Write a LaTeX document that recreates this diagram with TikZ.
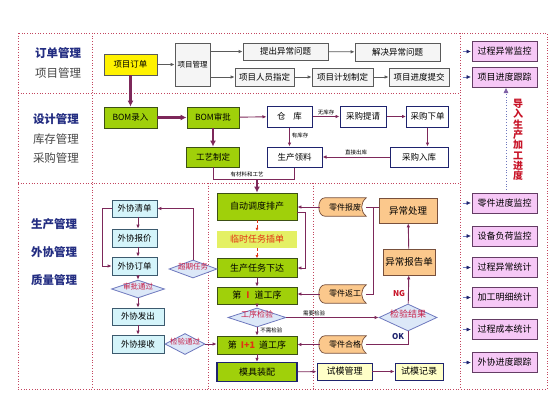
\documentclass[tikz,border=0pt]{standalone}
\usepackage{fontspec}
\setmainfont{Noto Sans CJK SC}
\usetikzlibrary{arrows.meta,shapes.geometric,calc}
\definecolor{pl}{RGB}{125,40,90}
\definecolor{frm}{RGB}{195,70,95}
\definecolor{grn}{RGB}{160,208,10}
\definecolor{grnd}{RGB}{60,80,20}
\definecolor{navy}{RGB}{30,35,110}
\definecolor{lblue}{RGB}{35,45,130}
\definecolor{lgray}{RGB}{70,70,70}
\definecolor{pinkf}{RGB}{246,200,246}
\definecolor{pinkd}{RGB}{100,60,100}
\definecolor{cyanf}{RGB}{212,244,250}
\definecolor{cyand}{RGB}{60,90,110}
\definecolor{orf}{RGB}{251,200,140}
\definecolor{ord}{RGB}{120,80,60}
\definecolor{diaf}{RGB}{220,232,248}
\definecolor{diad}{RGB}{110,120,190}
\definecolor{dtxt}{RGB}{200,30,70}
\definecolor{lsf}{RGB}{228,240,100}
\definecolor{lst}{RGB}{225,50,20}
\definecolor{vred}{RGB}{200,20,40}
\definecolor{yelf}{RGB}{255,255,200}
\definecolor{grayb}{RGB}{245,245,245}
\definecolor{grayd}{RGB}{90,90,90}
\newcommand\docpath[1]{\draw[fill=orf,draw=ord,line width=0.7pt] ($(#1.north west)+(5,0)$) -- (#1.north east) .. controls ($(#1.north east)+(-6,5)$) and ($(#1.south east)+(-6,-5)$) .. (#1.south east) -- ($(#1.south west)+(5,0)$) .. controls ($(#1.south west)+(-3,0)$) and ($(#1.north west)+(-3,0)$) .. cycle;}
\begin{document}
\begin{tikzpicture}[x=1pt,y=-1pt,
  wh/.style 2 args={minimum width=#1pt,minimum height=#2pt},
  box/.style={inner sep=0pt,font=\fontsize{8.5}{9}\selectfont,align=center},
  grayx/.style={box,draw=grayd,fill=grayb,line width=0.7pt},
  yelx/.style={box,draw=grayd,fill=yellow,line width=0.7pt},
  greenx/.style={box,draw=grnd,fill=grn,line width=0.8pt},
  bluex/.style={box,draw=navy,fill=white,line width=1pt},
  pinkx/.style={box,draw=pinkd,fill=pinkf,line width=0.8pt,font=\fontsize{9}{9.5}\selectfont},
  cyanx/.style={box,draw=cyand,fill=cyanf,line width=0.7pt},
  orx/.style={box,draw=ord,fill=orf,line width=0.7pt,font=\fontsize{9.5}{10}\selectfont},
  docn/.style={inner sep=0pt},
  doct/.style={box,font=\fontsize{8}{8.5}\selectfont},
  dia/.style={diamond,inner sep=0pt,draw=diad,fill=diaf,line width=0.8pt,text=dtxt,font=\fontsize{8}{8.5}\selectfont},
  lbl/.style={font=\fontsize{11.5}{12}\selectfont\bfseries,text=lblue},
  lblg/.style={font=\fontsize{11.5}{12}\selectfont,text=lgray},
  small/.style={font=\fontsize{5.5}{6}\selectfont,inner sep=0pt},
  frame/.style={draw=frm,dotted,line width=0.7pt},
  garr/.style={draw=grayd,line width=0.8pt,-{Latex[length=4pt,width=3.5pt]}},
  ln/.style={draw=pl,line width=0.9pt},
  arr/.style={ln,-{Latex[length=4pt,width=3.5pt]}},
  thk/.style={draw=pl,line width=2.3pt,-{Latex[length=6pt,width=6pt]}},
  rarr/.style={draw=lst,densely dashed,line width=0.6pt,-{Latex[length=3pt,width=3pt]}},
  parr/.style={draw=diad,line width=0.5pt,-{Triangle[length=4pt,width=3.5pt]},arrows={-{Triangle[length=4pt,width=3.5pt,color=navy]}}}
]
\fill[white] (0,0) rectangle (558,400);
\useasboundingbox (0,0) rectangle (558,400);

% frames
\draw[frame] (18,33) rectangle (547,389);
\draw[frame] (92,33) -- (92,389);
\draw[frame] (460,33) -- (460,389);
\draw[frame] (18,93) -- (460,93);
\draw[frame] (18,183) -- (460,183);
\draw[frame] (208,183) -- (208,389);
\draw[frame] (313,183) -- (313,389);

% left labels
\node[lbl]  (l1) at (58,53)  {订单管理};
\node[lblg] (l2) at (58,73)  {项目管理};
\node[lbl]  (l3) at (56,119) {设计管理};
\node[lblg] (l4) at (56,139) {库存管理};
\node[lblg] (l5) at (56,158) {采购管理};
\node[lbl]  (l6) at (54,224) {生产管理};
\node[lbl]  (l7) at (54,252) {外协管理};
\node[lbl]  (l8) at (54,280) {质量管理};

% row 1
\node[yelx,wh={53}{21}]  (xo) at (130.5,64.5) {项目订单};
\node[grayx,wh={35}{43},font=\fontsize{7.5}{8}\selectfont] (pm) at (192.5,64.5) {项目管理};
\node[grayx,wh={85}{17}] (ts) at (285.5,51.5) {提出异常问题};
\node[grayx,wh={85}{18}] (js) at (397.5,52) {解决异常问题};
\node[grayx,wh={59}{18}] (ry) at (264.5,77) {项目人员指定};
\node[grayx,wh={61}{18}] (jh) at (342.5,77) {项目计划制定};
\node[grayx,wh={60}{18}] (jd) at (419,77) {项目进度提交};
\draw[garr] (xo) -- (pm);
\draw[garr] (pm.east |- ts) -- (ts);
\draw[garr] (pm.east |- ry) -- (ry);
\draw[garr] (ts) -- (js);
\draw[garr] (ry) -- (jh);
\draw[garr] (jh) -- (jd);

% right panel
\node[pinkx,wh={65}{20}] (p1) at (504.5,51.5) {过程异常监控};
\node[pinkx,wh={65}{20}] (p2) at (504.5,77) {项目进度跟踪};
\node[pinkx,wh={65}{20}] (p3) at (504.5,203) {零件进度监控};
\node[pinkx,wh={65}{20}] (p4) at (504.5,236) {设备负荷监控};
\node[pinkx,wh={65}{20}] (p5) at (504.5,267.5) {过程异常统计};
\node[pinkx,wh={65}{20}] (p6) at (504.5,297.5) {加工明细统计};
\node[pinkx,wh={65}{20}] (p7) at (504.5,329.5) {过程成本统计};
\node[pinkx,wh={65}{20}] (p8) at (504.5,362.5) {外协进度跟踪};
\foreach \p in {p1,p2,p3,p4,p5,p6,p7,p8}{
  \draw[draw=diad,line width=0.5pt,-{Triangle[length=4pt,width=3.5pt,color=navy]}] ([xshift=-9pt]\p.west) -- ([xshift=-1pt]\p.west);
}
\coordinate (va) at (506,190);
\coordinate (vb) at (506,88);
\draw[draw=diad,dotted,line width=0.8pt,-{Triangle[length=5pt,width=4.5pt,color=diad!80!purple]}] (va) -- (vb);
\node[font=\fontsize{10}{10.3}\selectfont\bfseries,text=vred,align=center,inner sep=0pt] (vt) at (518,140) {导\\入\\生\\产\\加\\工\\进\\度};

% row 2
\node[greenx,wh={53}{21}] (b1) at (130.5,117.5) {BOM录入};
\node[greenx,wh={52}{21}] (b2) at (213,117.5) {BOM审批};
\node[greenx,wh={53}{20}] (gy) at (213,157) {工艺制定};
\node[bluex,wh={45}{21}]  (ck) at (289.5,116.5) {仓\hspace{8pt}库};
\node[bluex,wh={46}{21}]  (tq) at (363,116.5) {采购提请};
\node[bluex,wh={42}{21}]  (xd) at (427.5,116.5) {采购下单};
\node[bluex,wh={55}{20}]  (ll) at (294.5,157) {生产领料};
\node[bluex,wh={58}{20}]  (rk) at (419,157) {采购入库};
\draw[thk] (xo) -- (b1);
\draw[thk] (b1) -- (b2);
\draw[thk] (b2) -- (gy);
\draw[arr] (b2) -- (ck);
\draw[arr] (ck) -- node[small,above=1.5pt] (t1) {无库存} (tq);
\draw[arr] (tq) -- (xd);
\draw[arr] (xd) -- (xd |- rk.north);
\draw[arr] (rk) -- node[small,above=1.5pt] (t2) {直接出库} (ll);
\draw[arr] (ck.south) -- node[small,right=2pt,pos=0.4] (t3) {有库存} (ck.south |- ll.north);
\coordinate (jn) at (257,179);
\draw[ln] (gy.south) -- (gy.south |- jn) -- (ll.south |- jn) -- (ll.south);
\node[small] (t4) at (247,174) {有材料和工艺};

% row 3 centre
\node[greenx,wh={80}{27},font=\fontsize{9}{9.5}\selectfont] (zd) at (257,206.5) {自动调度排产};
\node[box,fill=lsf,wh={80}{17},text=lst,font=\fontsize{9}{9.5}\selectfont] (ls) at (257,239.5) {临时任务插单};
\node[greenx,wh={80}{19},font=\fontsize{9}{9.5}\selectfont] (sc) at (257,268) {生产任务下达};
\node[greenx,wh={80}{17},font=\fontsize{9}{9.5}\selectfont] (d1) at (257,295.5) {第\hspace{5pt}{\color{lst}\bfseries I}\hspace{5pt}道工序};
\node[dia,minimum width=58pt,minimum height=19pt] (gj) at (257,317.5) {\smash{\makebox[0pt]{工序检验}}};
\node[greenx,wh={80}{18},font=\fontsize{9}{9.5}\selectfont] (d2) at (257,345) {第\hspace{4pt}{\color{lst}\bfseries I+1}\hspace{4pt}道工序};
\node[greenx,draw=navy,line width=1.3pt,wh={80}{19},font=\fontsize{9}{9.5}\selectfont] (mj) at (257,372) {模具装配};
\draw[thk] (jn) -- (zd);
\draw[rarr] (zd) -- (ls);
\draw[rarr] (ls) -- (sc);
\draw[arr] (sc) -- (d1);
\draw[arr] (d1) -- (gj);
\draw[arr] (gj) -- node[small,right=3pt,pos=0.35] (t5) {不需检验} (d2);
\draw[arr] (d2) -- (mj);
\draw[arr] ([yshift=-5.5pt]zd.east) -- ++(8,0) |- (sc.east);

% row 3 right column
\node[docn,wh={46}{18}] (bf) at (343,207) {};
\docpath{bf}
\node[doct] (bft) at (345,207) {零件报废};
\node[docn,wh={46}{18}] (fg) at (343,294) {};
\docpath{fg}
\node[doct] (fgt) at (345,294) {零件返工};
\node[docn,wh={46}{17}] (hg) at (343,344.5) {};
\docpath{hg}
\node[doct] (hgt) at (345,344.5) {零件合格};
\node[orx,wh={58}{25}] (yc) at (408,210.5) {异常处理};
\node[orx,wh={52}{26}] (bg) at (409,262) {异常报告单};
\node[dia,minimum width=58pt,minimum height=27pt,font=\fontsize{9}{9.5}\selectfont] (jy) at (408,317.5) {\smash{\makebox[0pt]{检验结果}}};
\coordinate (j1) at (373,207);
\draw[ln] (yc.west |- bf.east) -- (bf.east);
\draw[ln] (j1) -- (j1 |- fg.east) -- (fg.east);
\draw[arr] (bf) -- (bf -| zd.east);
\draw[arr] (fg) -- (fg -| d1.east);
\draw[arr] (jy) -- (bg);
\draw[arr] (bg) -- (yc);
\draw[ln] (jy.south) -- (jy.south |- hg.east) -- (hg.east);
\draw[arr] (hg) -- (hg -| d2.east);
\draw[arr] (gj.east) -- node[small,above=1.5pt,pos=0.3] (t6) {需要检验} (jy.west);
\node[font=\fontsize{8}{8.5}\selectfont\bfseries,text=vred,inner sep=0pt] (ng) at (399,294) {NG};
\node[font=\fontsize{8}{8.5}\selectfont\bfseries,text=navy,inner sep=0pt] (ok) at (398,337) {OK};
\node[box,draw=navy,fill=yelf,line width=0.9pt,wh={55}{17},font=\fontsize{9}{9.5}\selectfont] (sm) at (344.5,371.5) {试模管理};
\node[box,draw=navy,fill=yelf,line width=0.9pt,wh={48}{17},font=\fontsize{9}{9.5}\selectfont] (sj) at (419,371.5) {试模记录};
\draw[arr] (mj) -- (sm);
\draw[arr] (sm) -- (sj);

% row 3 left (outsourcing)
\node[cyanx,wh={45}{17}] (wq) at (134.5,208.5) {外协清单};
\node[cyanx,wh={45}{18}] (wb) at (134.5,238) {外协报价};
\node[cyanx,wh={45}{18}] (wd) at (134.5,266) {外协订单};
\node[dia,minimum width=53pt,minimum height=18pt,font=\fontsize{7.5}{8}\selectfont] (sp) at (138,289) {\smash{\makebox[0pt]{审批通过}}};
\node[cyanx,wh={52}{17}] (wf) at (138,316.5) {外协发出};
\node[cyanx,wh={52}{18}] (wj) at (138,344) {外协接收};
\node[dia,minimum width=40pt,minimum height=21pt,font=\fontsize{7.5}{8}\selectfont] (jt) at (185,344) {\smash{\makebox[0pt]{检验通过}}};
\node[dia,minimum width=48pt,minimum height=18pt,font=\fontsize{7.5}{8}\selectfont] (cq) at (193,269) {\smash{\makebox[0pt]{超期任务}}};
\draw[arr] (sp |- wq.south) -- (sp |- wb.north);
\draw[arr] (sp |- wb.south) -- (sp |- wd.north);
\draw[arr] (sp |- wd.south) -- (sp.north);
\draw[arr] (sp.south) -- (wf.north);
\draw[arr] (wf) -- (wj);
\draw[arr] (cq.north) |- (wq.east);
\draw[arr] (wq.west) -- ++(-9,0) |- (wd.west);
\draw[arr] (jt.east) -- (jt.east -| d2.west);
\end{tikzpicture}
\end{document}
